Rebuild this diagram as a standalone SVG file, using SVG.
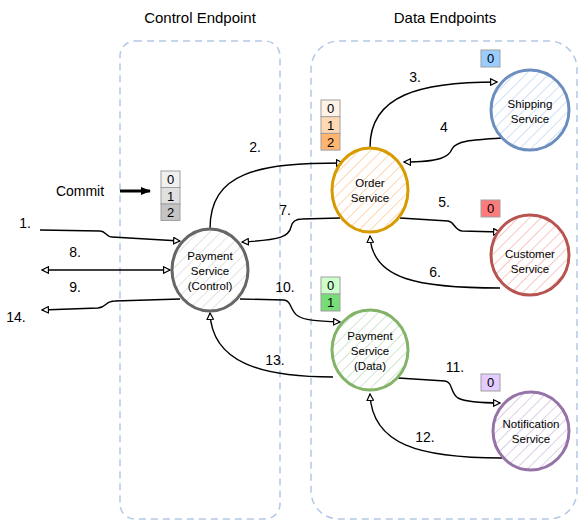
<svg xmlns="http://www.w3.org/2000/svg" width="582" height="522" viewBox="0 0 582 522">
<style>
.t{font-family:"Liberation Sans",Arial,sans-serif;fill:#000;text-anchor:middle;dominant-baseline:central}
.title{font-size:15px}
.lbl{font-size:14px}
.nt{font-size:11.5px}
.q{font-size:13px}
.cont{fill:none;stroke:#b3c7e6;stroke-width:1.5;stroke-dasharray:7 5}
.e{fill:none;stroke:#000;stroke-width:1.4}
.n{stroke-width:3}
.qb{stroke:#a0a0a0;stroke-width:1}
</style>
<defs>
<marker id="ar" viewBox="0 0 10 10" refX="9" refY="5" markerWidth="8" markerHeight="8" orient="auto-start-reverse" markerUnits="userSpaceOnUse">
<path d="M1,1 L9,5 L1,9 Z" fill="#fff" stroke="#000" stroke-width="1.5"/>
</marker>
<marker id="arf" viewBox="0 0 10 10" refX="9" refY="5" markerWidth="10" markerHeight="10" orient="auto" markerUnits="userSpaceOnUse">
<path d="M0,1 L10,5 L0,9 Z" fill="#000"/>
</marker>
<pattern id="hg" width="8" height="8" patternUnits="userSpaceOnUse" patternTransform="rotate(45)"><rect width="8" height="8" fill="#fff"/><line x1="0" y1="0" x2="0" y2="8" stroke="#e3e3e3" stroke-width="2"/></pattern>
<pattern id="ho" width="8" height="8" patternUnits="userSpaceOnUse" patternTransform="rotate(45)"><rect width="8" height="8" fill="#fff"/><line x1="0" y1="0" x2="0" y2="8" stroke="#ffd6b3" stroke-width="2"/></pattern>
<pattern id="hb" width="8" height="8" patternUnits="userSpaceOnUse" patternTransform="rotate(45)"><rect width="8" height="8" fill="#fff"/><line x1="0" y1="0" x2="0" y2="8" stroke="#d0e0f5" stroke-width="2"/></pattern>
<pattern id="hr" width="8" height="8" patternUnits="userSpaceOnUse" patternTransform="rotate(45)"><rect width="8" height="8" fill="#fff"/><line x1="0" y1="0" x2="0" y2="8" stroke="#f6c6c4" stroke-width="2"/></pattern>
<pattern id="hgr" width="8" height="8" patternUnits="userSpaceOnUse" patternTransform="rotate(45)"><rect width="8" height="8" fill="#fff"/><line x1="0" y1="0" x2="0" y2="8" stroke="#d0e6ce" stroke-width="2"/></pattern>
<pattern id="hp" width="8" height="8" patternUnits="userSpaceOnUse" patternTransform="rotate(45)"><rect width="8" height="8" fill="#fff"/><line x1="0" y1="0" x2="0" y2="8" stroke="#ddcfe5" stroke-width="2"/></pattern>
</defs>
<rect width="582" height="522" fill="#fff"/>

<g id="control-endpoint">
<rect class="cont" x="120" y="41" width="160" height="478" rx="15"/>
<text class="t title" x="200" y="17">Control Endpoint</text>
</g>
<g id="data-endpoints">
<rect class="cont" x="311" y="41" width="266" height="478" rx="28"/>
<text class="t title" x="445" y="17">Data Endpoints</text>
</g>

<g id="connectors">
<path class="e" d="M40,230 L100,231 C106,231 106,237 112,237 L180,241" marker-end="url(#ar)"/>
<path class="e" d="M210,229 C210,172 258,163 343,163" marker-end="url(#ar)"/>
<path class="e" d="M370,147 C370,95 420,82 497,82" marker-end="url(#ar)"/>
<path class="e" d="M502,138 C470,140 456,141 452,149 C449,157 440,162 404,162" marker-end="url(#ar)"/>
<path class="e" d="M400,218 L448,221 C455,222 454,230 462,231 L500,232" marker-end="url(#ar)"/>
<path class="e" d="M500,288 C420,288 372,280 370,236" marker-end="url(#ar)"/>
<path class="e" d="M340,218 L302,219 C295,219 292,222 291,227 C289,236 282,240 242,242" marker-end="url(#ar)"/>
<path class="e" d="M42,270 L170,270" marker-start="url(#ar)" marker-end="url(#ar)"/>
<path class="e" d="M180,299 L115,301 C105,301 107,307 98,308 L42,310" marker-end="url(#ar)"/>
<path class="e" d="M240,299 L284,300 C292,301 290,311 298,316 C304,320 315,321 340,322" marker-end="url(#ar)"/>
<path class="e" d="M398,378 L445,381 C453,382 450,393 458,398 C466,402 480,403 500,403" marker-end="url(#ar)"/>
<path class="e" d="M502,458 C420,458 372,445 370,394" marker-end="url(#ar)"/>
<path class="e" d="M333,377 C260,377 212,362 210,313" marker-end="url(#ar)"/>
<path d="M120,191 L150,191" stroke="#000" stroke-width="3" fill="none" marker-end="url(#arf)"/>
</g>

<g id="labels">
<text class="t lbl" x="25" y="223">1.</text>
<text class="t lbl" x="255" y="147">2.</text>
<text class="t lbl" x="415" y="77">3.</text>
<text class="t lbl" x="444" y="127">4</text>
<text class="t lbl" x="444" y="202">5.</text>
<text class="t lbl" x="435" y="272">6.</text>
<text class="t lbl" x="285" y="210">7.</text>
<text class="t lbl" x="75" y="252">8.</text>
<text class="t lbl" x="75" y="287">9.</text>
<text class="t lbl" x="285" y="287">10.</text>
<text class="t lbl" x="455" y="367">11.</text>
<text class="t lbl" x="425" y="437">12.</text>
<text class="t lbl" x="275" y="360">13.</text>
<text class="t lbl" x="16" y="317">14.</text>
<text class="t lbl" x="80" y="191">Commit</text>
</g>

<g id="payment-control">
<ellipse class="n" cx="210" cy="270" rx="38" ry="41" fill="url(#hg)" stroke="#666"/>
<text class="t nt" x="210" y="256">Payment</text>
<text class="t nt" x="210" y="271">Service</text>
<text class="t nt" x="210" y="286">(Control)</text>
</g>
<g id="payment-control-queue">
<rect class="qb" x="161" y="171" width="19" height="16.5" fill="#f0f0f0"/>
<rect class="qb" x="161" y="187.5" width="19" height="16.5" fill="#e0e0e0"/>
<rect class="qb" x="161" y="204" width="19" height="16.5" fill="#c4c4c4"/>
<text class="t q" x="170.5" y="179.5">0</text>
<text class="t q" x="170.5" y="196">1</text>
<text class="t q" x="170.5" y="212.5">2</text>
</g>

<g id="order-service">
<ellipse class="n" cx="370" cy="190" rx="38" ry="42" fill="url(#ho)" stroke="#d79b00"/>
<text class="t nt" x="370" y="183">Order</text>
<text class="t nt" x="370" y="198">Service</text>
</g>
<g id="order-queue">
<rect class="qb" x="321" y="100" width="19" height="16.7" fill="#fff2e6"/>
<rect class="qb" x="321" y="116.7" width="19" height="16.7" fill="#ffd9b3"/>
<rect class="qb" x="321" y="133.4" width="19" height="16.7" fill="#ffb570"/>
<text class="t q" x="330.5" y="108.5">0</text>
<text class="t q" x="330.5" y="125">1</text>
<text class="t q" x="330.5" y="142">2</text>
</g>

<g id="shipping-service">
<ellipse class="n" cx="530" cy="110" rx="39" ry="40" fill="url(#hb)" stroke="#6c8ebf"/>
<text class="t nt" x="530" y="104">Shipping</text>
<text class="t nt" x="530" y="119">Service</text>
<rect class="qb" x="481" y="50" width="19" height="17" fill="#99ccff"/>
<text class="t q" x="490.5" y="58.5">0</text>
</g>

<g id="customer-service">
<ellipse class="n" cx="530" cy="255" rx="39" ry="40" fill="url(#hr)" stroke="#b85450"/>
<text class="t nt" x="530" y="254">Customer</text>
<text class="t nt" x="530" y="269">Service</text>
<rect class="qb" x="481" y="200" width="19" height="17" fill="#ff7a7a"/>
<text class="t q" x="490.5" y="208.5">0</text>
</g>

<g id="payment-data">
<ellipse class="n" cx="370" cy="350" rx="38" ry="40" fill="url(#hgr)" stroke="#82b366"/>
<text class="t nt" x="370" y="336">Payment</text>
<text class="t nt" x="370" y="351">Service</text>
<text class="t nt" x="370" y="366">(Data)</text>
<rect class="qb" x="321" y="277" width="19" height="17" fill="#ccffcc"/>
<rect class="qb" x="321" y="294" width="19" height="17" fill="#77dd77"/>
<text class="t q" x="330.5" y="285.5">0</text>
<text class="t q" x="330.5" y="302.5">1</text>
</g>

<g id="notification-service">
<ellipse class="n" cx="531" cy="431" rx="38" ry="39" fill="url(#hp)" stroke="#9673a6"/>
<text class="t nt" x="531" y="424">Notification</text>
<text class="t nt" x="531" y="439">Service</text>
<rect class="qb" x="481" y="374" width="19" height="17" fill="#e5ccff"/>
<text class="t q" x="490.5" y="382.5">0</text>
</g>
</svg>
